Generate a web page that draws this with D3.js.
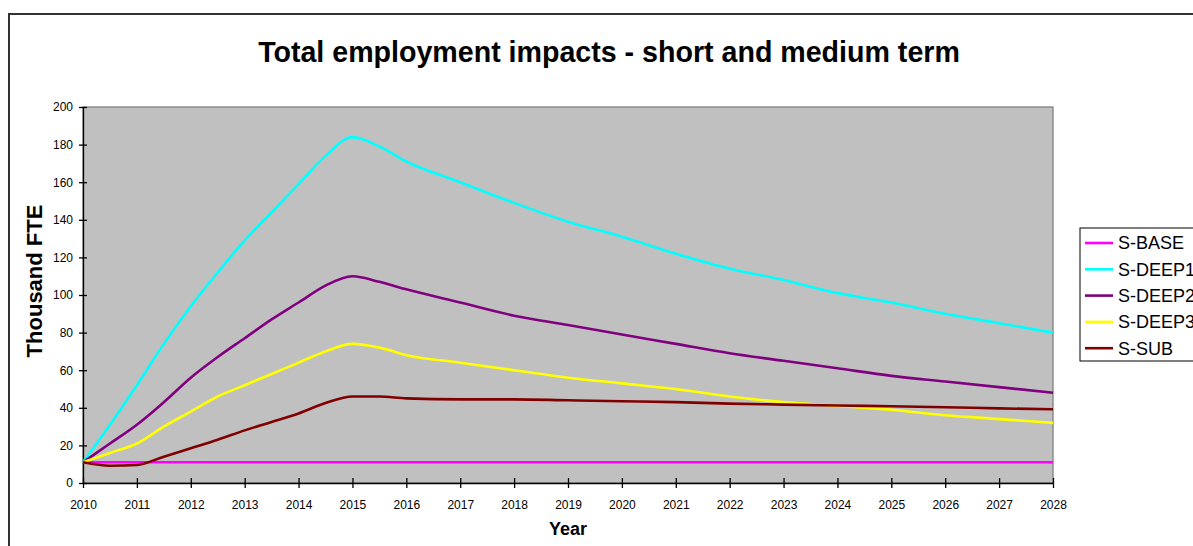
<!DOCTYPE html>
<meta charset="utf-8">
<style>
body { margin: 0; background: #fff; }
svg { font-family: "Liberation Sans", Arial, sans-serif; }
.tick text { font-size: 12px; fill: #000; }
.axis path, .axis line { stroke: #000; stroke-width: 1.3px; }
.series { fill: none; stroke-width: 2.6px; }
</style>
<body>
<script src="https://cdn.jsdelivr.net/npm/d3@7"></script>
<script>

var years = [2010, 2010.5, 2011, 2011.5, 2012, 2012.5, 2013, 2013.5, 2014, 2014.5, 2015, 2015.5,
             2016, 2017, 2018, 2019, 2020, 2021, 2022, 2023, 2024, 2025, 2026, 2027, 2028];

var sBase  = [11, 11, 11, 11, 11, 11, 11, 11, 11, 11, 11, 11, 11, 11, 11, 11, 11, 11, 11, 11, 11, 11, 11, 11, 11];
var sDeep1 = [11, 31, 52, 74, 94, 112, 129, 144, 159, 174, 184, 179, 171, 160, 149, 139, 131, 122, 114, 108, 101, 96, 90, 85, 80];
var sDeep2 = [11, 21, 31, 43, 56, 67, 77, 87, 96, 105, 110, 107, 103, 96, 89, 84, 79, 74, 69, 65, 61, 57, 54, 51, 48];
var sDeep3 = [11, 16, 21, 30, 38, 46, 52, 58, 64, 70, 74, 72, 68, 64, 60, 56, 53, 50, 46, 43, 41, 39, 36, 34, 32];
var sSub   = [11, 9.2, 9.6, 14, 18.5, 23, 28, 32.5, 37, 42.5, 46, 46, 45, 44.5, 44.5, 44, 43.5, 43, 42.2, 41.7, 41.2, 40.8, 40.3, 39.7, 39.2];

var seriesNames = ["S-BASE", "S-DEEP1", "S-DEEP2", "S-DEEP3", "S-SUB"];
var seriesColors = ["#ff00ff", "#00ffff", "#800080", "#ffff00", "#800000"];
var seriesValues = [sBase, sDeep1, sDeep2, sDeep3, sSub];

var xTicks = d3.range(2010, 2029);
var yTicks = d3.range(0, 201, 20);

var width = 1193, height = 546;
var plot = {left: 83, right: 1053, top: 107, bottom: 483};

var svg = d3.select("body").append("svg")
    .attr("width", width)
    .attr("height", height);

// outer chart frame (cut off on the right and bottom)
svg.append("rect")
    .attr("x", 9).attr("y", 14)
    .attr("width", 1300).attr("height", 600)
    .attr("fill", "#fff")
    .attr("stroke", "#333").attr("stroke-width", 2);

var x = d3.scaleLinear().domain([2010, 2028]).range([plot.left, plot.right]);
var y = d3.scaleLinear().domain([0, 200]).range([plot.bottom, plot.top]);

svg.append("rect")
    .attr("x", plot.left).attr("y", plot.top)
    .attr("width", plot.right - plot.left).attr("height", plot.bottom - plot.top)
    .attr("fill", "#c0c0c0")
    .attr("stroke", "#808080").attr("stroke-width", 1.3);

// title
svg.append("text")
    .attr("x", 609).attr("y", 62)
    .attr("text-anchor", "middle")
    .style("font-size", "28.6px").style("font-weight", "bold")
    .text("Total employment impacts - short and medium term");

// axes
var xAxis = svg.append("g")
    .attr("class", "axis")
    .attr("transform", "translate(0," + plot.bottom + ")")
    .call(d3.axisBottom(x).tickValues(xTicks).tickFormat(d3.format("d")).tickSizeInner(5).tickSizeOuter(0).tickPadding(12));
xAxis.selectAll(".tick line").attr("y1", -5);

var yAxis = svg.append("g")
    .attr("class", "axis")
    .attr("transform", "translate(" + plot.left + ",0)")
    .call(d3.axisLeft(y).tickValues(yTicks).tickSizeInner(4).tickSizeOuter(0).tickPadding(6));
yAxis.selectAll(".tick line").attr("x1", 4);

svg.append("text")
    .attr("x", (plot.left + plot.right) / 2).attr("y", 535)
    .attr("text-anchor", "middle")
    .style("font-size", "18px").style("font-weight", "bold")
    .text("Year");

svg.append("text")
    .attr("transform", "translate(42,281) rotate(-90)")
    .attr("text-anchor", "middle")
    .style("font-size", "22px").style("font-weight", "bold")
    .text("Thousand FTE");

// lines
var line = d3.line()
    .x(function(d, i) { return x(years[i]); })
    .y(function(d) { return y(d); })
    .curve(d3.curveMonotoneX);

svg.selectAll(".series")
    .data(seriesValues)
    .enter().append("path")
      .attr("class", "series")
      .attr("stroke", function(d, i) { return seriesColors[i]; })
      .attr("d", line);

// legend
var legend = svg.append("g");
legend.append("rect")
    .attr("x", 1080).attr("y", 228)
    .attr("width", 200).attr("height", 133)
    .attr("fill", "#fff")
    .attr("stroke", "#000").attr("stroke-width", 1);

var item = legend.selectAll(".item")
    .data(seriesNames)
    .enter().append("g")
      .attr("transform", function(d, i) { return "translate(0," + (243 + i * 26.3) + ")"; });

item.append("line")
    .attr("x1", 1085).attr("x2", 1113)
    .attr("stroke", function(d, i) { return seriesColors[i]; })
    .attr("stroke-width", 2.6);

item.append("text")
    .attr("x", 1118).attr("dy", "0.35em")
    .style("font-size", "18px")
    .text(function(d) { return d; });
</script>
</body>
</html>
